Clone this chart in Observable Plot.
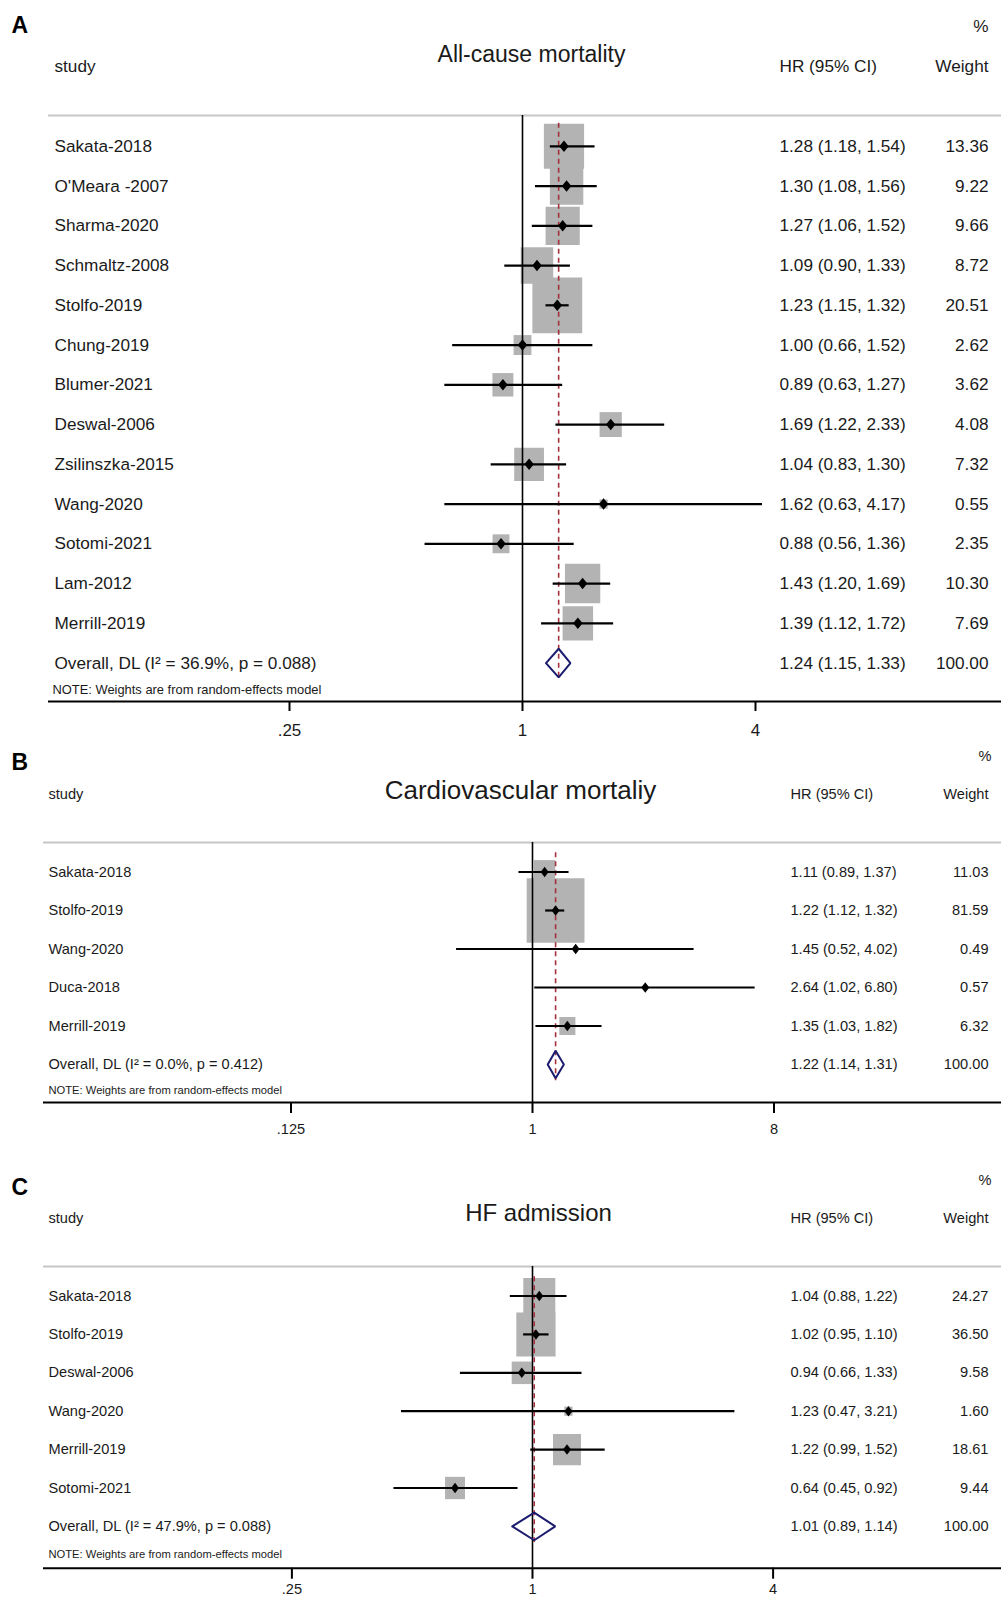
<!DOCTYPE html>
<html><head><meta charset="utf-8">
<script src="https://cdn.jsdelivr.net/npm/d3@7"></script>
<script src="https://cdn.jsdelivr.net/npm/@observablehq/plot@0.6"></script>
<style>
body{margin:0;background:#fff;}
#chart{width:1001px;}
#chart svg{display:block;}
</style></head><body><div id="chart"></div>
<script>
// ---------- Panel A: All-cause mortality ----------
const titleA = "All-cause mortality";
const studiesA = ["Sakata-2018","O'Meara -2007","Sharma-2020","Schmaltz-2008","Stolfo-2019","Chung-2019","Blumer-2021","Deswal-2006","Zsilinszka-2015","Wang-2020","Sotomi-2021","Lam-2012","Merrill-2019"];
const hrA = [1.28,1.30,1.27,1.09,1.23,1.00,0.89,1.69,1.04,1.62,0.88,1.43,1.39];
const loA = [1.18,1.08,1.06,0.90,1.15,0.66,0.63,1.22,0.83,0.63,0.56,1.20,1.12];
const hiA = [1.54,1.56,1.52,1.33,1.32,1.52,1.27,2.33,1.30,4.17,1.36,1.69,1.72];
const weightA = [13.36,9.22,9.66,8.72,20.51,2.62,3.62,4.08,7.32,0.55,2.35,10.30,7.69];
const overallA = [1.24,1.15,1.33,100.00];
const overallLabelA = "Overall, DL (I\u00B2 = 36.9%, p = 0.088)";
const ticksA = [0.25,1,4];
const tickLabelsA = [".25","1","4"];

// ---------- Panel B: Cardiovascular mortality ----------
const titleB = "Cardiovascular mortaliy";
const studiesB = ["Sakata-2018","Stolfo-2019","Wang-2020","Duca-2018","Merrill-2019"];
const hrB = [1.11,1.22,1.45,2.64,1.35];
const loB = [0.89,1.12,0.52,1.02,1.03];
const hiB = [1.37,1.32,4.02,6.80,1.82];
const weightB = [11.03,81.59,0.49,0.57,6.32];
const overallB = [1.22,1.14,1.31,100.00];
const overallLabelB = "Overall, DL (I\u00B2 = 0.0%, p = 0.412)";
const ticksB = [0.125,1,8];
const tickLabelsB = [".125","1","8"];

// ---------- Panel C: HF admission ----------
const titleC = "HF admission";
const studiesC = ["Sakata-2018","Stolfo-2019","Deswal-2006","Wang-2020","Merrill-2019","Sotomi-2021"];
const hrC = [1.04,1.02,0.94,1.23,1.22,0.64];
const loC = [0.88,0.95,0.66,0.47,0.99,0.45];
const hiC = [1.22,1.10,1.33,3.21,1.52,0.92];
const weightC = [24.27,36.50,9.58,1.60,18.61,9.44];
const overallC = [1.01,0.89,1.14,100.00];
const overallLabelC = "Overall, DL (I\u00B2 = 47.9%, p = 0.088)";
const ticksC = [0.25,1,4];
const tickLabelsC = [".25","1","4"];

const noteText = "NOTE: Weights are from random-effects model";
const W = 1001;
const FONT = "'Liberation Sans', Arial, Helvetica, sans-serif";
const TXT = "#1a1a1a";

function boxSymbol(aspect) {
  return {draw(ctx, size) { const s = Math.sqrt(size); ctx.rect(-s/2, -s*aspect/2, s, s*aspect); }};
}
function markerSymbol(wd, ht) {
  return {draw(ctx) { ctx.moveTo(0,-ht/2); ctx.lineTo(wd/2,0); ctx.lineTo(0,ht/2); ctx.lineTo(-wd/2,0); ctx.closePath(); }};
}

function makePanel(d, g) {
  const rows = d.studies.map((s, i) => ({label: s, hr: d.hr[i], lo: d.lo[i], hi: d.hi[i], w: d.w[i], row: i}));
  const n = rows.length;
  const ov = {label: d.overallLabel, hr: d.overall[0], lo: d.overall[1], hi: d.overall[2], w: d.overall[3], row: n};
  const all = rows.concat([ov]);
  const tickData = d.ticks.map((v, i) => ({v, label: d.tickLabels[i]}));
  const rowOf = px => (px - g.first) / g.step;
  const dh = 0.36;
  const diamond = [
    {x: ov.lo, y: n}, {x: ov.hr, y: n - dh}, {x: ov.hi, y: n}, {x: ov.hr, y: n + dh}, {x: ov.lo, y: n}
  ];
  const fmt = v => v.toFixed(2);
  return Plot.plot({
    width: W,
    height: g.height,
    marginLeft: g.left,
    marginRight: 0,
    marginTop: 0,
    marginBottom: g.height - g.axisY,
    style: {fontFamily: FONT, background: "#fff", overflow: "visible"},
    x: {type: "log", domain: [2 ** ((g.left - g.one) / g.unit), 2 ** ((W - g.one) / g.unit)], axis: null},
    y: {domain: [rowOf(0), rowOf(g.axisY)], range: [0, g.axisY], axis: null},
    r: {type: "sqrt", domain: [0, 100], range: [0, g.boxK * 10 / Math.sqrt(Math.PI)]},
    marks: [
      Plot.ruleY([rowOf(g.headerY)], {stroke: "#c6c6c6", strokeWidth: 2}),
      Plot.dot(rows, {x: "hr", y: "row", r: "w", symbol: boxSymbol(g.boxAspect), fill: "#b3b3b3", stroke: "none", sort: null}),
      Plot.ruleX([1], {y1: rowOf(g.headerY), y2: rowOf(g.axisY), stroke: "#000", strokeWidth: 1.6}),
      Plot.ruleX([ov.hr], {y1: -g.dashTop, y2: n + 0.42, stroke: "#a3303d", strokeWidth: 1.6, strokeDasharray: "5,4"}),
      Plot.ruleY(rows, {y: "row", x1: "lo", x2: "hi", stroke: "#000", strokeWidth: 2.2}),
      Plot.dot(rows, {x: "hr", y: "row", symbol: markerSymbol(g.marker[0], g.marker[1]), fill: "#000", stroke: "none"}),
      Plot.line(diamond, {x: "x", y: "y", stroke: "#1c1c6e", strokeWidth: 2, strokeLinejoin: "miter"}),
      // x axis: line, ticks, labels
      Plot.ruleY([rowOf(g.axisY)], {stroke: "#000", strokeWidth: 2}),
      Plot.ruleX(tickData, {x: "v", y1: rowOf(g.axisY), y2: rowOf(g.axisY + g.tickSize), stroke: "#000", strokeWidth: 2}),
      Plot.text(tickData, {x: "v", text: "label", frameAnchor: "bottom", dy: g.tickLabelDy, lineAnchor: "middle", textAnchor: "middle", fontSize: g.tickFs, fill: TXT}),
      // row texts
      Plot.text(all, {y: "row", text: "label", frameAnchor: "left", dx: g.studyX - g.left, textAnchor: "start", fontSize: g.fs, fill: TXT}),
      Plot.text(all, {y: "row", text: r => `${fmt(r.hr)} (${fmt(r.lo)}, ${fmt(r.hi)})`, frameAnchor: "left", dx: g.hrX - g.left, textAnchor: "start", fontSize: g.fs, fill: TXT}),
      Plot.text(all, {y: "row", text: r => fmt(r.w), frameAnchor: "right", dx: g.wtRight - W, textAnchor: "end", fontSize: g.fs, fill: TXT}),
      // headers
      Plot.text([d.letter], {frameAnchor: "top-left", dx: g.letter[0] - g.left, dy: g.letter[1], textAnchor: "start", lineAnchor: "middle", fontSize: 23, fontWeight: "bold", fill: "#000"}),
      Plot.text(["%"], {frameAnchor: "top-right", dx: g.pctRight - W, dy: g.pctY, textAnchor: "end", lineAnchor: "middle", fontSize: g.fs, fill: TXT}),
      Plot.text([d.title], {frameAnchor: "top-left", dx: g.title[0] - g.left, dy: g.title[1], textAnchor: "middle", lineAnchor: "middle", fontSize: g.titleFs, fill: TXT}),
      Plot.text(["study"], {frameAnchor: "top-left", dx: g.studyX - g.left, dy: g.headY, textAnchor: "start", lineAnchor: "middle", fontSize: g.fs, fill: TXT}),
      Plot.text(["HR (95% CI)"], {frameAnchor: "top-left", dx: g.hrX - g.left, dy: g.headY, textAnchor: "start", lineAnchor: "middle", fontSize: g.fs, fill: TXT}),
      Plot.text(["Weight"], {frameAnchor: "top-right", dx: g.wtRight - W, dy: g.headY, textAnchor: "end", lineAnchor: "middle", fontSize: g.fs, fill: TXT}),
      Plot.text([noteText], {frameAnchor: "top-left", dx: g.note[0] - g.left, dy: g.note[1], textAnchor: "start", lineAnchor: "middle", fontSize: g.noteFs, fill: TXT})
    ]
  });
}

const chart = document.getElementById("chart");
chart.appendChild(makePanel(
  {letter: "A", title: titleA, studies: studiesA, hr: hrA, lo: loA, hi: hiA, w: weightA, overall: overallA, overallLabel: overallLabelA, ticks: ticksA, tickLabels: tickLabelsA},
  {height: 748, left: 48, one: 522, unit: 116.5, first: 145.8, step: 39.75, axisY: 701, headerY: 115, dashTop: 0.58,
   boxK: 11, boxAspect: 1.12, marker: [9.5, 11.5], fs: 17.2, titleFs: 23, noteFs: 12.9, tickFs: 17, tickSize: 10, tickLabelDy: 29,
   letter: [11, 25.5], pctY: 25.5, pctRight: 988, title: [531, 54], headY: 66, studyX: 54, hrX: 779, wtRight: 988, note: [52, 689]}
));
chart.appendChild(makePanel(
  {letter: "B", title: titleB, studies: studiesB, hr: hrB, lo: loB, hi: hiB, w: weightB, overall: overallB, overallLabel: overallLabelB, ticks: ticksB, tickLabels: tickLabelsB},
  {height: 400, left: 43, one: 532, unit: 80.5, first: 123.5, step: 38.5, axisY: 354, headerY: 94, dashTop: 0.5,
   boxK: 6.4, boxAspect: 1.12, marker: [8, 10.5], fs: 14.6, titleFs: 26, noteFs: 11.2, tickFs: 14.6, tickSize: 11, tickLabelDy: 27,
   letter: [11, 14], pctY: 8, pctRight: 991, title: [520, 42], headY: 46, studyX: 48, hrX: 790, wtRight: 988, note: [48, 342]}
));
chart.appendChild(makePanel(
  {letter: "C", title: titleC, studies: studiesC, hr: hrC, lo: loC, hi: hiC, w: weightC, overall: overallC, overallLabel: overallLabelC, ticks: ticksC, tickLabels: tickLabelsC},
  {height: 450, left: 43, one: 532, unit: 120.3, first: 147.5, step: 38.4, axisY: 419.7, headerY: 118, dashTop: 0.5,
   boxK: 6.5, boxAspect: 1.12, marker: [8, 10.5], fs: 14.6, titleFs: 24, noteFs: 11.2, tickFs: 14.6, tickSize: 11, tickLabelDy: 21,
   letter: [11, 39], pctY: 32, pctRight: 991, title: [538, 65], headY: 70, studyX: 48, hrX: 790, wtRight: 988, note: [48, 406.4]}
));
</script></body></html>
